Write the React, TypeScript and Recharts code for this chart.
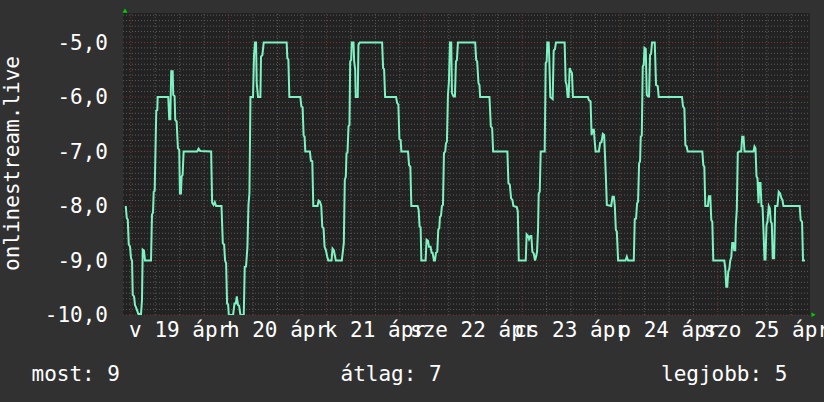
import React from 'react';
import { LineChart, Line, XAxis, YAxis, CartesianGrid, ReferenceLine } from 'recharts';

// [hours since 19 Apr 00:00, value]
const samples: [number, number][] = [
  [-1.22, -8.0], [-0.98, -8.22], [-0.73, -8.25], [-0.49, -8.7], [-0.17, -8.75], [0.07, -8.96], [0.32, -9.0],
  [0.49, -9.63], [0.81, -9.66], [1.05, -9.82], [1.3, -9.86], [1.86, -9.98], [2.52, -9.98], [2.76, -9.72],
  [2.94, -8.8], [3.25, -8.82], [3.5, -9.0], [4.97, -9.0], [5.21, -8.16], [5.46, -8.12], [5.63, -7.74],
  [5.87, -7.72], [6.26, -6.25], [6.51, -6.24], [6.61, -6.0], [9.2, -6.0], [9.44, -6.41], [9.69, -6.41],
  [9.93, -5.53], [10.28, -5.53], [10.42, -5.96], [10.76, -5.99], [10.91, -6.42], [11.25, -6.45], [11.57, -6.94],
  [11.89, -6.97], [12.06, -7.77], [12.31, -7.77], [12.48, -7.46], [12.72, -7.43], [12.97, -7.0], [16.29, -7.0],
  [16.64, -6.95], [17.03, -6.99], [19.72, -7.0], [19.96, -7.94], [20.31, -7.98], [20.62, -7.93], [20.94, -8.0],
  [22.26, -8.0], [22.58, -8.68], [22.9, -8.71], [23.14, -9.0], [23.39, -9.05], [23.63, -9.79], [23.88, -9.8],
  [24.05, -10.0], [25.1, -10.0], [25.44, -9.79], [25.76, -9.79], [26.01, -9.66], [26.32, -9.82], [26.57, -9.83],
  [26.91, -10.0], [27.72, -10.0], [27.96, -9.12], [28.28, -9.11], [28.62, -8.75], [28.87, -7.98], [29.11, -7.77],
  [29.36, -6.0], [29.99, -6.0], [30.24, -5.23], [30.48, -5.0], [30.73, -5.0], [30.9, -5.75], [31.22, -6.0],
  [31.8, -6.0], [31.95, -5.26], [32.29, -5.23], [32.61, -5.0], [38.24, -5.0], [38.41, -5.29], [38.66, -5.31],
  [38.9, -6.0], [41.59, -6.0], [41.84, -6.17], [42.15, -6.19], [42.4, -6.71], [42.64, -6.73], [42.81, -7.0],
  [43.94, -7.0], [44.18, -7.17], [44.53, -7.18], [44.77, -8.0], [45.82, -8.0], [46.07, -7.9], [46.39, -7.92],
  [46.73, -8.0], [46.97, -8.38], [47.29, -8.41], [47.54, -8.75], [47.85, -8.81], [48.2, -8.93], [48.44, -9.0],
  [49.25, -9.0], [49.49, -8.78], [49.81, -8.81], [50.3, -9.0], [51.77, -9.0], [52.01, -8.84], [52.26, -8.68],
  [52.5, -7.52], [52.75, -7.46], [52.92, -7.03], [53.16, -7.02], [53.41, -6.54], [53.65, -6.51], [53.82, -5.35],
  [54.07, -5.32], [54.21, -5.0], [54.63, -5.0], [54.8, -5.35], [55.05, -5.5], [55.19, -6.0], [55.68, -6.0],
  [55.85, -5.04], [56.17, -5.0], [61.65, -5.0], [61.9, -5.47], [62.14, -5.49], [62.39, -6.0], [65.08, -6.0],
  [65.32, -6.11], [65.64, -6.14], [65.89, -6.77], [66.2, -6.79], [66.37, -7.0], [68.01, -7.0], [68.26, -7.25],
  [68.58, -7.28], [68.82, -8.0], [70.36, -8.0], [70.61, -8.07], [70.85, -8.38], [71.1, -8.39], [71.27, -9.0],
  [72.32, -9.0], [72.56, -8.62], [72.91, -8.64], [73.15, -8.75], [73.54, -8.75], [73.79, -8.86], [74.03, -8.86],
  [74.37, -9.0], [74.62, -9.0], [74.86, -8.86], [75.18, -8.84], [75.43, -8.43], [75.67, -8.41], [75.84, -8.2],
  [76.09, -8.18], [76.33, -8.0], [76.58, -7.98], [76.82, -7.03], [77.14, -7.0], [77.31, -6.85], [77.55, -6.82],
  [77.8, -5.96], [78.04, -5.72], [78.29, -5.0], [78.61, -5.0], [78.78, -5.93], [79.17, -5.99], [79.51, -5.99],
  [79.76, -5.35], [80.0, -5.32], [80.25, -5.0], [84.48, -5.0], [84.72, -5.32], [84.97, -5.35], [85.29, -5.75],
  [85.53, -5.78], [85.7, -6.0], [87.98, -6.0], [88.32, -6.54], [88.64, -6.57], [88.88, -7.0], [92.38, -7.0],
  [92.63, -7.58], [92.97, -7.61], [93.29, -7.86], [93.61, -7.89], [93.85, -8.0], [94.68, -8.02], [94.93, -8.1],
  [95.17, -9.0], [96.88, -9.0], [97.1, -8.52], [97.44, -8.55], [97.69, -8.61], [98.01, -8.55], [98.26, -8.55],
  [98.5, -8.84], [98.84, -8.87], [99.16, -9.0], [99.41, -8.93], [99.65, -8.84], [99.89, -8.44], [100.06, -7.77],
  [100.31, -7.74], [100.55, -7.0], [101.53, -7.0], [101.77, -5.38], [102.02, -5.35], [102.17, -5.0], [102.51, -5.0],
  [102.66, -5.32], [102.9, -6.0], [103.49, -6.04], [103.73, -5.15], [104.05, -5.12], [104.29, -5.0], [106.42, -5.0],
  [106.67, -5.72], [106.91, -5.78], [107.16, -6.0], [107.4, -6.0], [107.65, -5.47], [107.97, -5.53], [108.21, -5.56],
  [108.46, -6.0], [112.12, -6.0], [112.37, -6.06], [112.78, -6.08], [113.03, -6.7], [113.27, -6.6], [113.59, -6.6],
  [113.83, -6.85], [114.01, -7.0], [114.81, -7.0], [115.13, -6.84], [115.47, -6.83], [115.79, -6.68], [116.11, -6.7],
  [116.28, -7.0], [116.53, -7.46], [116.77, -7.98], [117.83, -8.0], [118.17, -7.83], [118.49, -7.83], [118.73, -8.0],
  [118.98, -8.44], [119.22, -8.47], [119.54, -9.0], [121.35, -9.0], [121.67, -8.93], [121.98, -9.0], [123.38, -9.0],
  [123.62, -8.24], [123.94, -8.23], [124.19, -7.95], [124.43, -7.92], [124.68, -7.22], [124.92, -7.18], [125.09, -6.73],
  [125.34, -6.71], [125.58, -5.44], [125.83, -5.41], [126.0, -5.1], [126.32, -5.12], [126.56, -5.96], [126.88, -5.99],
  [127.12, -5.99], [127.37, -5.23], [127.61, -5.21], [127.86, -5.0], [128.52, -5.0], [128.84, -5.78], [129.25, -5.8],
  [129.5, -6.0], [135.2, -6.0], [135.44, -6.17], [135.79, -6.21], [136.03, -6.88], [136.35, -6.91], [136.59, -7.0],
  [140.19, -7.0], [140.43, -7.25], [140.68, -7.28], [140.92, -8.0], [141.56, -8.0], [141.8, -7.82], [142.15, -7.82],
  [142.39, -8.26], [142.64, -8.29], [142.88, -9.0], [145.57, -9.0], [145.82, -9.14], [146.06, -9.48], [146.31, -9.48],
  [146.55, -9.2], [146.8, -9.16], [147.04, -9.0], [147.29, -8.94], [147.53, -8.68], [147.78, -8.68], [148.02, -8.81],
  [148.27, -8.81], [148.4, -8.35], [148.65, -8.07], [148.89, -7.02], [149.24, -7.0], [149.73, -7.0], [149.97, -6.73],
  [150.29, -6.73], [150.54, -7.0], [152.74, -7.0], [152.99, -6.91], [153.23, -6.94], [153.48, -7.46], [153.72, -7.49],
  [153.97, -7.95], [154.21, -7.58], [154.46, -7.58], [154.7, -8.0], [154.95, -8.0], [155.19, -8.44], [155.44, -8.98],
  [155.68, -8.98], [155.93, -8.35], [156.17, -8.29], [156.49, -8.0], [156.74, -8.04], [156.98, -8.29], [157.23, -8.32],
  [157.46, -8.96], [157.8, -8.96], [158.05, -8.0], [158.61, -8.0], [158.93, -7.74], [159.27, -7.77], [159.59, -7.86],
  [159.84, -7.89], [160.08, -8.0], [164.07, -8.0], [164.31, -8.26], [164.65, -8.29], [164.89, -9.0], [165.38, -9.0],
];

const dayNoonHours = [12, 36, 60, 84, 108, 132, 156];
const dayLabels = ['v 19 ápr', 'h 20 ápr', 'k 21 ápr', 'sze 22 ápr', 'cs 23 ápr', 'p 24 ápr', 'szo 25 ápr'];
const valueTicks = [-10, -9, -8, -7, -6, -5];
const yAxisTitle = 'onlinestream.live';
const summaryLabels = ['most', 'átlag', 'legjobb'];
const summaryValues = [9, 7, 5];

const data = samples.map(([h, v]) => ({ h, v }));

const X_DOMAIN: [number, number] = [-1.9, 166.6];
const Y_DOMAIN: [number, number] = [-10, -4.46];

const minorY: number[] = [];
for (let i = -99; i <= -45; i++) if (i % 10 !== 0) minorY.push(i / 10);
const majorY = valueTicks;
const minorX: number[] = [];
for (let h = 6; h < X_DOMAIN[1]; h += 6) if (h % 24 !== 0) minorX.push(h);
const majorX: number[] = [];
for (let h = 0; h < X_DOMAIN[1]; h += 24) majorX.push(h);

const FONT = '"DejaVu Sans Mono", monospace';
const BG = '#313131';
const CANVAS = '#222222';
const MINOR = '#5a5a5a';
const MAJOR = '#7a3535';
const LINE = '#7ef2c2';

export default function App() {
  return (
    <div style={{ position: 'absolute', left: 0, top: 0, width: 824, height: 402, background: BG, overflow: 'hidden' }}>
      <LineChart width={824} height={402} data={data} margin={{ top: 13, right: 14, bottom: 57, left: 0 }}>
        <CartesianGrid horizontal={false} vertical={false} fill={CANVAS} />
        {minorY.map((v) => (
          <ReferenceLine key={'my' + v} y={v} stroke={MINOR} strokeDasharray="1 2" strokeWidth={1} />
        ))}
        {minorX.map((v) => (
          <ReferenceLine key={'mx' + v} x={v} stroke={MINOR} strokeDasharray="1 2" strokeWidth={1} />
        ))}
        {majorY.map((v) => (
          <ReferenceLine key={'My' + v} y={v} stroke={MAJOR} strokeDasharray="1 2" strokeWidth={1} />
        ))}
        {majorX.map((v) => (
          <ReferenceLine key={'Mx' + v} x={v} stroke={MAJOR} strokeDasharray="1 2" strokeWidth={1} />
        ))}
        <XAxis
          type="number"
          dataKey="h"
          domain={X_DOMAIN}
          allowDataOverflow
          ticks={dayNoonHours}
          interval={0}
          height={30}
          axisLine={false}
          tickLine={false}
          tickSize={0}
          tickMargin={7}
          tick={{ fill: '#ffffff', fontSize: 21, fontFamily: FONT }}
          tickFormatter={(v: number) => dayLabels[dayNoonHours.indexOf(v)] ?? ''}
        />
        <YAxis
          type="number"
          domain={Y_DOMAIN}
          allowDataOverflow
          ticks={valueTicks}
          interval={0}
          width={123}
          axisLine={false}
          tickLine={false}
          tickSize={0}
          tickMargin={15}
          tick={{ fill: '#ffffff', fontSize: 21, fontFamily: FONT }}
          tickFormatter={(v: number) => v.toFixed(1).replace('.', ',')}
        />
        <Line
          type="linear"
          dataKey="v"
          stroke={LINE}
          strokeWidth={2}
          dot={false}
          activeDot={false}
          isAnimationActive={false}
        />
      </LineChart>
      <svg
        width={824}
        height={402}
        style={{ position: 'absolute', left: 0, top: 0, pointerEvents: 'none' }}
      >
        <text
          transform="translate(18.5,163.5) rotate(-90)"
          textAnchor="middle"
          fill="#ffffff"
          fontSize={21}
          fontFamily={FONT}
        >
          {yAxisTitle}
        </text>
        <polygon points="122.5,12.8 127.5,12.8 125,8.6" fill="#00d000" />
        <polygon points="811.5,312.6 811.5,317 815.6,314.8" fill="#00d000" />
        {summaryLabels.map((label, i) => (
          <text
            key={label}
            x={[31.5, 340.5, 661][i]}
            y={381}
            fill="#ffffff"
            fontSize={21}
            fontFamily={FONT}
          >
            {label + ': ' + summaryValues[i]}
          </text>
        ))}
      </svg>
    </div>
  );
}
